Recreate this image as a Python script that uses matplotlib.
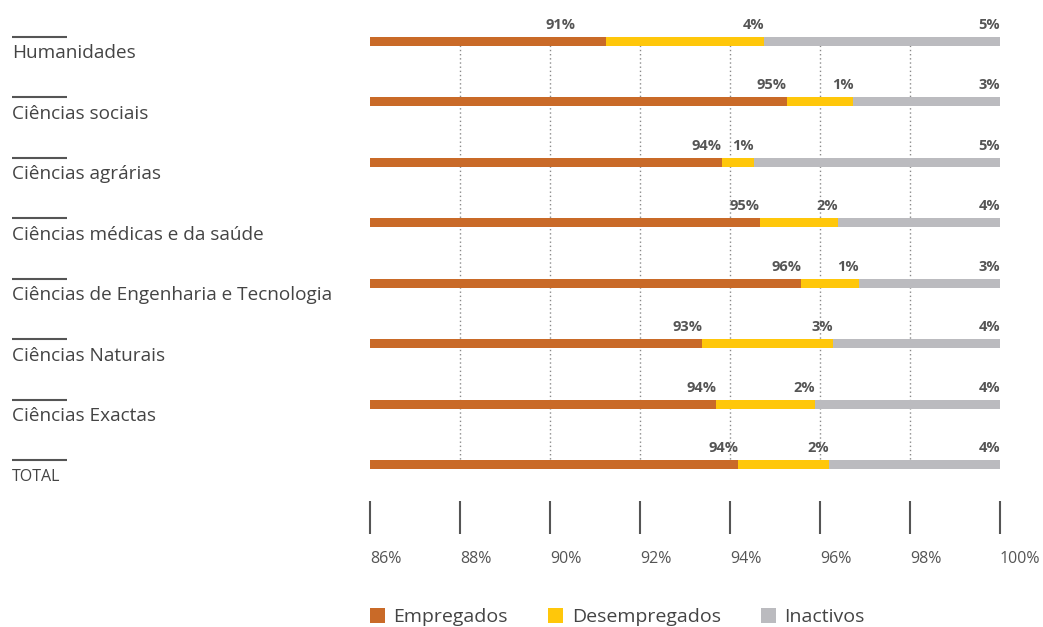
import matplotlib
matplotlib.use("Agg")
import matplotlib.pyplot as plt
import matplotlib.transforms as mtransforms
from matplotlib.patches import Patch

# Área científica e situação perante o emprego (%)
categorias = [
    "Humanidades",
    "Ciências sociais",
    "Ciências agrárias",
    "Ciências médicas e da saúde",
    "Ciências de Engenharia e Tecnologia",
    "Ciências Naturais",
    "Ciências Exactas",
    "TOTAL",
]
empregados = [91.24, 95.26, 93.82, 94.66, 95.58, 93.38, 93.69, 94.18]
desempregados = [3.52, 1.48, 0.71, 1.74, 1.29, 2.91, 2.19, 2.02]
inactivos = [5.24, 3.26, 5.47, 3.60, 3.13, 3.71, 4.12, 3.80]

series_nomes = ["Empregados", "Desempregados", "Inactivos"]
cores = ["#C96A28", "#FFC70A", "#BBBBBF"]
x_ticks = [86, 88, 90, 92, 94, 96, 98, 100]

plt.rcParams["font.family"] = ["Open Sans", "DejaVu Sans"]

W, H = 1043, 627
fig = plt.figure(figsize=(W / 100, H / 100), dpi=100)

# eixo principal: 86%..100% entre x=370 e x=1000 px
y0_px, dy_px, base_px = 41, 60.5, 534
ax = fig.add_axes([370 / W, (H - base_px) / H, 630 / W, base_px / H])
ax.set_xlim(86, 100)
ax.set_ylim((base_px - y0_px) / dy_px, -y0_px / dy_px)

n = len(categorias)
ys = list(range(n))
altura = 9 / dy_px

# grelha vertical pontilhada
ax.vlines(x_ticks[1:-1], 0, n - 1, colors="#8a8a8a",
          linestyles=(0, (1, 2)), linewidth=1, zorder=0)

fim_emp = empregados
fim_des = [e + d for e, d in zip(empregados, desempregados)]
fim_inac = [a + b for a, b in zip(fim_des, inactivos)]
ax.barh(ys, [e - 86 for e in empregados], left=86, height=altura,
        color=cores[0], zorder=2)
ax.barh(ys, desempregados, left=fim_emp, height=altura, color=cores[1], zorder=2)
ax.barh(ys, inactivos, left=fim_des, height=altura, color=cores[2], zorder=2)

# rótulos de valor, alinhados à direita no fim de cada segmento
deslocamento = {(0, 0): -30}
for i in range(n):
    for k, (xf, v) in enumerate(zip((fim_emp[i], fim_des[i], fim_inac[i]),
                                     (empregados[i], desempregados[i], inactivos[i]))):
        dx = deslocamento.get((i, k), 0)
        ax.annotate(f"{round(v):d}%", (xf, i), xytext=(dx * 0.72, 6.5),
                    textcoords="offset points", ha="right", va="bottom",
                    fontsize=10.5, fontweight="bold", color="#555555")

# nomes das categorias à esquerda, com traço por cima
trans = mtransforms.blended_transform_factory(fig.transFigure, ax.transData)
for i, nome in enumerate(categorias):
    total = nome == "TOTAL"
    dy_line = 4.5 / dy_px
    ax.plot([12 / W, 67 / W], [i - dy_line, i - dy_line], transform=trans,
            color="#555555", lw=1.5, clip_on=False, solid_capstyle="butt")
    ax.annotate(nome, (12 / W, i), xycoords=trans,
                xytext=(0, -3.5 if total else -2.5),
                textcoords="offset points", ha="left", va="top",
                fontsize=11.5 if total else 13.7, color="#444444")

# régua inferior
ax.set_xticks(x_ticks)
ax.set_xticklabels([f"{t}%" for t in x_ticks])
ax.tick_params(axis="x", direction="in", length=24, width=1.5, color="#555555",
               pad=12, labelsize=11.5, labelcolor="#555555")
ax.set_yticks([])
for s in ax.spines.values():
    s.set_visible(False)
ax.patch.set_visible(False)
for lbl in ax.get_xticklabels():
    lbl.set_horizontalalignment("left")

handles = [Patch(facecolor=c, edgecolor="none") for c in cores]
fig.legend(handles, series_nomes, loc="lower left",
           bbox_to_anchor=(352 / W, -17 / H), ncol=3, frameon=False,
           fontsize=14, handlelength=0.78, handleheight=0.78,
           handletextpad=0.45, columnspacing=2.05, labelcolor="#444444")

fig.savefig("out.png", dpi=100)
